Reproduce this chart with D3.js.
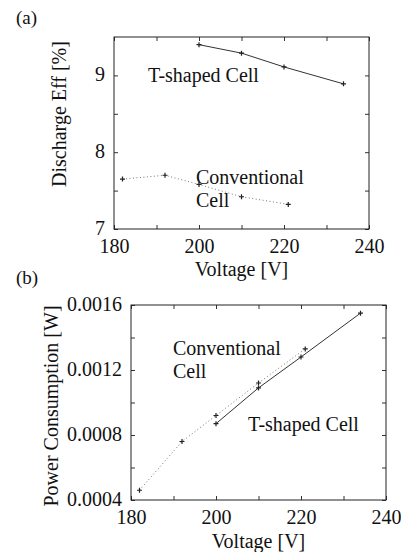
<!DOCTYPE html>
<html>
<head>
<meta charset="utf-8">
<script src="https://cdn.jsdelivr.net/npm/d3@7"></script>
<style>
  body { margin: 0; background: #fff; }
  svg { display: block; }
  text { font-family: "Liberation Serif", "DejaVu Serif", "Noto Serif", serif; fill: #111; }
</style>
</head>
<body>
<svg id="chart" width="401" height="552"></svg>
<script>
const FONT = '"Liberation Serif", "DejaVu Serif", "Noto Serif", serif';

// Data
const voltTa = [200, 210, 220, 234];
const effT = [9.40, 9.29, 9.11, 8.89];
const voltCa = [182, 192, 200, 210, 221];
const effC = [7.65, 7.70, 7.58, 7.42, 7.32];

const voltTb = [200, 210, 220, 234];
const powT = [0.00087, 0.00109, 0.00128, 0.00155];
const voltCb = [182, 192, 200, 210, 221];
const powC = [0.00046, 0.00076, 0.00092, 0.00112, 0.00133];

// ticks
const voltTicks = [180, 200, 220, 240];
const voltMinor = [190, 210, 230];
const effTicks = [7, 8, 9];
const effMinor = [7.5, 8.5];
const powTicks = [0.0004, 0.0008, 0.0012, 0.0016];
const powMinor = [0.0006, 0.0010, 0.0014];

const svg = d3.select("#chart");

function panel(cfg) {
  const x = d3.scaleLinear().domain([180, 240]).range([cfg.left, cfg.right]);
  const y = d3.scaleLinear().domain(cfg.yDomain).range([cfg.bottom, cfg.top]);
  const g = svg.append("g");

  // inward ticks on all four sides
  const axes = [
    [d3.axisBottom(x).tickValues(voltTicks), cfg.bottom, "x", true],
    [d3.axisBottom(x).tickValues(voltMinor), cfg.bottom, "x", false],
    [d3.axisTop(x).tickValues(voltTicks.concat(voltMinor)), cfg.top, "x", false],
    [d3.axisLeft(y).tickValues(cfg.yTicks).tickFormat(cfg.yFmt), cfg.left, "y", true],
    [d3.axisLeft(y).tickValues(cfg.yMinor), cfg.left, "y", false],
    [d3.axisRight(y).tickValues(cfg.yTicks.concat(cfg.yMinor)), cfg.right, "y", false]
  ];
  for (let [ax, pos, dir, labeled] of axes) {
    ax.tickSize(-4).tickPadding(labeled ? (dir == "x" ? 10 : 9) : 0);
    if (!labeled) ax.tickFormat("");
    const a = g.append("g")
      .attr("transform", dir == "x" ? `translate(0,${pos})` : `translate(${pos},0)`)
      .call(ax);
    a.attr("font-family", null).attr("font-size", null);
    a.select(".domain").remove();
    a.selectAll("line").attr("stroke", "#333");
    a.selectAll("text")
      .style("font-family", FONT)
      .style("font-size", "20px")
      .attr("fill", "#111");
    if (dir == "y") a.selectAll("text").attr("dy", "0.26em");
  }

  // frame
  g.append("rect")
    .attr("x", cfg.left).attr("y", cfg.top)
    .attr("width", cfg.right - cfg.left).attr("height", cfg.bottom - cfg.top)
    .attr("fill", "none").attr("stroke", "#222").attr("stroke-width", 1);

  const line = d3.line().x(d => x(d[0])).y(d => y(d[1]));

  const series = [
    { pts: d3.zip(cfg.vC, cfg.yC), color: "#777", dash: "1,2.5" },
    { pts: d3.zip(cfg.vT, cfg.yT), color: "#333", dash: null }
  ];
  for (let s of series) {
    g.append("path")
      .attr("d", line(s.pts))
      .attr("fill", "none")
      .attr("stroke", s.color)
      .attr("stroke-width", 1)
      .attr("stroke-dasharray", s.dash);
    g.selectAll(null).data(s.pts).enter().append("path")
      .attr("transform", d => `translate(${x(d[0])},${y(d[1])})`)
      .attr("d", "M-2.5,0H2.5M0,-2.5V2.5")
      .attr("stroke", "#222")
      .attr("stroke-width", 1.2);
  }

  // annotations
  for (let t of cfg.labels) {
    g.append("text").attr("x", t[0]).attr("y", t[1])
      .style("font-family", FONT)
      .style("font-size", "20px").text(t[2]);
  }

  // panel tag and axis titles
  g.append("text").attr("x", 16).attr("y", cfg.tagY)
    .style("font-family", FONT)
    .style("font-size", "19px").text(cfg.tag);
  g.append("text")
    .attr("x", (cfg.left + cfg.right) / 2).attr("y", cfg.xTitleY)
    .attr("text-anchor", "middle")
    .style("font-family", FONT)
    .style("font-size", "20px").text("Voltage [V]");
  g.append("text")
    .attr("transform", `translate(${cfg.yTitleX},${cfg.yTitleCy}) rotate(-90)`)
    .attr("text-anchor", "middle")
    .style("font-family", FONT)
    .style("font-size", "20px").text(cfg.yTitle);
}

panel({
  left: 114, right: 369, top: 37, bottom: 229,
  yDomain: [7, 9.5], yTicks: effTicks, yMinor: effMinor, yFmt: d3.format("d"),
  vT: voltTa, yT: effT, vC: voltCa, yC: effC,
  labels: [[148, 82, "T-shaped Cell"], [196, 184, "Conventional"], [196, 207, "Cell"]],
  tag: "(a)", tagY: 24, xTitleY: 276,
  yTitle: "Discharge Eff [%]", yTitleX: 66, yTitleCy: 114
});

panel({
  left: 131, right: 386, top: 305, bottom: 500,
  yDomain: [0.0004, 0.0016], yTicks: powTicks, yMinor: powMinor, yFmt: d3.format(".4f"),
  vT: voltTb, yT: powT, vC: voltCb, yC: powC,
  labels: [[173, 355, "Conventional"], [173, 378, "Cell"], [248, 431, "T-shaped Cell"]],
  tag: "(b)", tagY: 284, xTitleY: 548,
  yTitle: "Power Consumption [W]", yTitleX: 58, yTitleCy: 406
});
</script>
</body>
</html>
